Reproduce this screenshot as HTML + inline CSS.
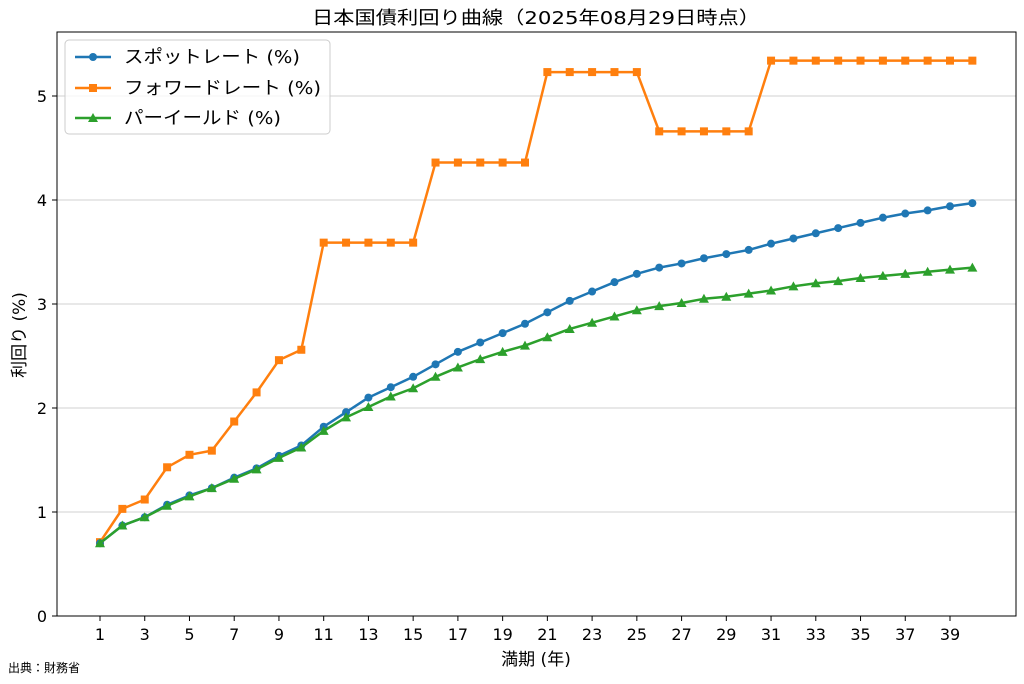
<!DOCTYPE html>
<html><head><meta charset="utf-8">
<style>
body{margin:0;background:#fff;}
svg{display:block;font-family:"DejaVu Sans","Liberation Sans","Noto Sans CJK JP",sans-serif;}
.cjk{font-family:"DejaVu Sans","Noto Sans CJK JP",sans-serif;}
</style></head>
<body>
<svg id="chart" width="1024" height="684" viewBox="0 0 1024 684" xmlns="http://www.w3.org/2000/svg">
<text class="cjk" x="536" y="24" text-anchor="middle" font-size="18" textLength="448" lengthAdjust="spacingAndGlyphs">日本国債利回り曲線（2025年08月29日時点）</text>
<g id="grid"></g>
<g id="axes"></g>
<g id="series"></g>
<rect x="57" y="32" width="959" height="584" fill="none" stroke="#000" stroke-width="1"/>
<text class="cjk" x="536" y="665" text-anchor="middle" font-size="17">満期 (年)</text>
<text class="cjk" transform="translate(25,335) rotate(-90)" text-anchor="middle" font-size="17">利回り (%)</text>
<text class="cjk" x="8" y="672" font-size="12">出典：財務省</text>
<g>
<rect x="65" y="40" width="265" height="94" rx="4" fill="#fff" fill-opacity="0.8" stroke="#ccc"/>
<g>
<line x1="75" y1="57" x2="111" y2="57" stroke="#1f77b4" stroke-width="2.5"/><circle cx="93" cy="57" r="4" fill="#1f77b4"/>
<text class="cjk" x="124" y="63" font-size="18" textLength="176" lengthAdjust="spacingAndGlyphs">スポットレート (%)</text></g>
<g>
<line x1="75" y1="88" x2="111" y2="88" stroke="#ff7f0e" stroke-width="2.5"/><rect x="89" y="84" width="8" height="8" fill="#ff7f0e"/>
<text class="cjk" x="124" y="94" font-size="18" textLength="197" lengthAdjust="spacingAndGlyphs">フォワードレート (%)</text></g>
<g>
<line x1="75" y1="118" x2="111" y2="118" stroke="#2ca02c" stroke-width="2.5"/><polygon points="93,113 98,122 88,122" fill="#2ca02c"/>
<text class="cjk" x="124" y="124" font-size="18" textLength="157" lengthAdjust="spacingAndGlyphs">パーイールド (%)</text></g>
</g>
</svg>
<script>
const maturities=[1,2,3,4,5,6,7,8,9,10,11,12,13,14,15,16,17,18,19,20,21,22,23,24,25,26,27,28,29,30,31,32,33,34,35,36,37,38,39,40];
const spotRate=[0.70,0.87,0.95,1.07,1.16,1.23,1.33,1.42,1.54,1.64,1.82,1.96,2.10,2.20,2.30,2.42,2.54,2.63,2.72,2.81,2.92,3.03,3.12,3.21,3.29,3.35,3.39,3.44,3.48,3.52,3.58,3.63,3.68,3.73,3.78,3.83,3.87,3.90,3.94,3.97];
const forwardRate=[0.71,1.03,1.12,1.43,1.55,1.59,1.87,2.15,2.46,2.56,3.59,3.59,3.59,3.59,3.59,4.36,4.36,4.36,4.36,4.36,5.23,5.23,5.23,5.23,5.23,4.66,4.66,4.66,4.66,4.66,5.34,5.34,5.34,5.34,5.34,5.34,5.34,5.34,5.34,5.34];
const parYield=[0.70,0.87,0.95,1.06,1.15,1.23,1.32,1.41,1.52,1.62,1.78,1.91,2.01,2.11,2.19,2.30,2.39,2.47,2.54,2.60,2.68,2.76,2.82,2.88,2.94,2.98,3.01,3.05,3.07,3.10,3.13,3.17,3.20,3.22,3.25,3.27,3.29,3.31,3.33,3.35];
const xTicks=[1,3,5,7,9,11,13,15,17,19,21,23,25,27,29,31,33,35,37,39];
const yTicks=[0,1,2,3,4,5];

const NS="http://www.w3.org/2000/svg";
const X=v=>100+(v-1)*(850/38);
const Y=v=>616-v*104;
function mk(tag,attrs,parent){const e=document.createElementNS(NS,tag);for(const k in attrs)e.setAttribute(k,attrs[k]);parent.appendChild(e);return e;}
const grid=document.getElementById('grid'),axes=document.getElementById('axes'),series=document.getElementById('series');
yTicks.forEach(t=>{
  const g=mk('line',{x1:57,x2:1016,y1:Y(t),y2:Y(t),stroke:'#d0d0d0','stroke-width':1},grid);
  
  
  mk('line',{x1:52,x2:57,y1:Y(t),y2:Y(t),stroke:'#000'},axes);
  const tx=mk('text',{x:47,y:Y(t)+6,'text-anchor':'end','font-size':16},axes);
  tx.textContent=t;
  
  
});
xTicks.forEach(t=>{
  mk('line',{x1:X(t),x2:X(t),y1:616,y2:621,stroke:'#000'},axes);
  const tx=mk('text',{x:X(t),y:640,'text-anchor':'middle','font-size':16},axes);
  tx.textContent=t;
  
  
});
function draw(vals,color,marker,name){
  const g=mk('g',{},series);
  
  
  const pts=vals.map((v,i)=>X(maturities[i])+','+Y(v)).join(' ');
  mk('polyline',{points:pts,fill:'none',stroke:color,'stroke-width':2.5,'stroke-linejoin':'round'},g);
  vals.forEach((v,i)=>{
    const x=X(maturities[i]),y=Y(v);let m;
    if(marker==='circle')m=mk('circle',{cx:x,cy:y,r:4,fill:color},g);
    else if(marker==='square')m=mk('rect',{x:x-4,y:y-4,width:8,height:8,fill:color},g);
    else m=mk('polygon',{points:`${x},${y-5} ${x+5},${y+4} ${x-5},${y+4}`,fill:color},g);
    
    
  });
}
draw(forwardRate,'#ff7f0e','square','forward-rate-series');
draw(spotRate,'#1f77b4','circle','spot-rate-series');
draw(parYield,'#2ca02c','triangle','par-yield-series');
</script>
</body></html>
